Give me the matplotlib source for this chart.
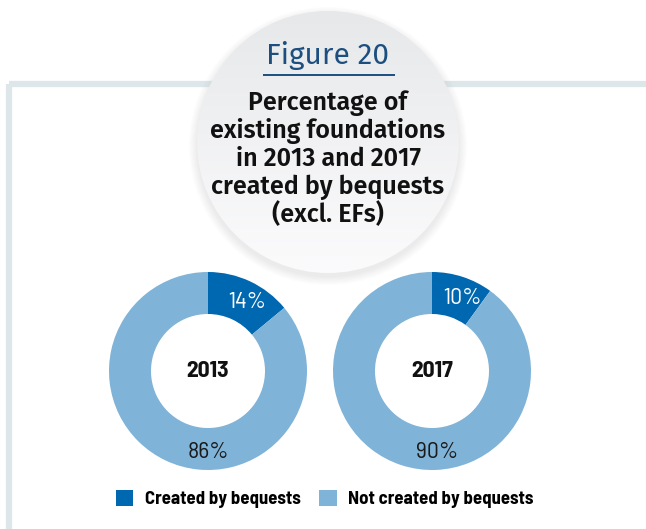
import numpy as np
import matplotlib
matplotlib.use("Agg")
import matplotlib.pyplot as plt
from matplotlib.patches import Circle, Rectangle
from matplotlib import font_manager

# Data
years = ["2013", "2017"]
created_by_bequests = [14, 10]
not_created_by_bequests = [86, 90]
series_labels = ["Created by bequests", "Not created by bequests"]
figure_label = "Figure 20"
title_lines = ["Percentage of", "existing foundations", "in 2013 and 2017",
               "created by bequests", "(excl. EFs)"]

DARK = "#0067b1"
LIGHT = "#7fb3d7"
FRAME = "#dde6e9"
NAVY = "#1c4f80"

W, H = 646, 529
DPI = 100


def _w(f):
    w = f.weight
    if isinstance(w, str):
        w = {"normal": 400, "regular": 400, "bold": 700, "light": 300,
             "medium": 500, "semibold": 600}.get(w.lower(), 400)
    return int(w)


FACES = {}
for f in font_manager.fontManager.ttflist:
    if f.style == "normal":
        FACES.setdefault(f.name, set()).add(_w(f))


def pick(names, need=600):
    for n in names:
        if n in FACES and max(FACES[n]) >= need:
            return n
    return "DejaVu Sans"


HEAD = pick(["Fira Sans", "Lato", "Noto Sans"])
COND = pick(["Barlow Semi Condensed", "Roboto Condensed",
             "Liberation Sans Narrow"])
HEAD_W = 600 if 600 in FACES.get(HEAD, ()) else "bold"
COND_B = 700 if 700 in FACES.get(COND, ()) else "bold"

fig = plt.figure(figsize=(W / DPI, H / DPI), dpi=DPI)
fig.patch.set_facecolor("white")

# Background layer in pixel coordinates (origin top-left)
bg = fig.add_axes([0, 0, 1, 1], zorder=0)
bg.set_xlim(0, W)
bg.set_ylim(H, 0)
bg.axis("off")

# Frame
bg.add_patch(Rectangle((8.5, 83.5), W + 20, H, fill=False, lw=4.5,
                       edgecolor=FRAME, zorder=1))

# Soft shadow beneath the title disc
cx, cy, r = 328, 142, 131
for i in range(10):
    bg.add_patch(Circle((cx, cy + 4), r + i * 0.9, color="#b0b0b0",
                        alpha=0.02, lw=0, zorder=2))

# Gradient disc
disc = Circle((cx, cy), r, transform=bg.transData, facecolor="none", lw=0)
bg.add_patch(disc)
grad = np.linspace(0, 1, 256).reshape(-1, 1)
top = np.array([0.905, 0.910, 0.915])
bot = np.array([0.985, 0.985, 0.99])
img = top + (bot - top) * grad[..., None]
img = np.repeat(img, 2, axis=1)
im = bg.imshow(img, extent=(cx - r, cx + r, cy + r, cy - r), aspect="auto",
               zorder=3, interpolation="bilinear")
im.set_clip_path(disc)

# Heading
bg.text(cx, 64, figure_label, ha="center", va="baseline", fontsize=21.5,
        color=NAVY, family=HEAD, zorder=5)
bg.plot([263, 395], [74.5, 74.5], color=NAVY, lw=1.4, zorder=5,
        solid_capstyle="butt")
for i, line in enumerate(title_lines):
    bg.text(cx, 110 + i * 28, line, ha="center", va="baseline",
            fontsize=18, fontweight=HEAD_W, color="#111111", family=HEAD,
            zorder=5)

# Donuts
centers = [(208, 371), (432, 371)]
R = 99
wedges_ref = None
for (px, py), year, a, b in zip(centers, years, created_by_bequests,
                                not_created_by_bequests):
    ax = fig.add_axes([(px - R) / W, 1 - (py + R) / H, 2 * R / W, 2 * R / H],
                      zorder=4)
    wedges, _ = ax.pie([a, b], colors=[DARK, LIGHT], startangle=90,
                       counterclock=False, radius=1,
                       wedgeprops=dict(width=1 - 57 / 99, lw=0))
    if wedges_ref is None:
        wedges_ref = wedges
    ax.set_xlim(-1, 1)
    ax.set_ylim(-1, 1)
    ax.set_aspect("equal")
    ax.axis("off")
    # value labels on the wedges
    total = a + b
    mid_a = np.deg2rad(90 - 360 * a / total / 2)
    ax.text(0.8 * np.cos(mid_a) + 0.06, 0.8 * np.sin(mid_a) - 0.03, f"{a}%",
            ha="center", va="center", fontsize=17, color="white",
            family=COND)
    ax.text(0.0 + (0.05 if b == 90 else 0), -0.82, f"{b}%", ha="center",
            va="center", fontsize=17, color="#1a1a1a", family=COND)
    ax.text(0, 0, year, ha="center", va="center", fontsize=17,
            fontweight="bold", color="#111111", family=COND)

# Legend
leg = fig.legend(wedges_ref, series_labels, loc="center",
                 bbox_to_anchor=(324.5 / W, 1 - 499 / H), ncol=2,
                 frameon=False, handlelength=0.95, handleheight=0.95,
                 handletextpad=0.6, columnspacing=1.0,
                 prop=dict(family=COND, weight=COND_B, size=13.5))

fig.savefig("out.png", dpi=DPI, facecolor="white")
